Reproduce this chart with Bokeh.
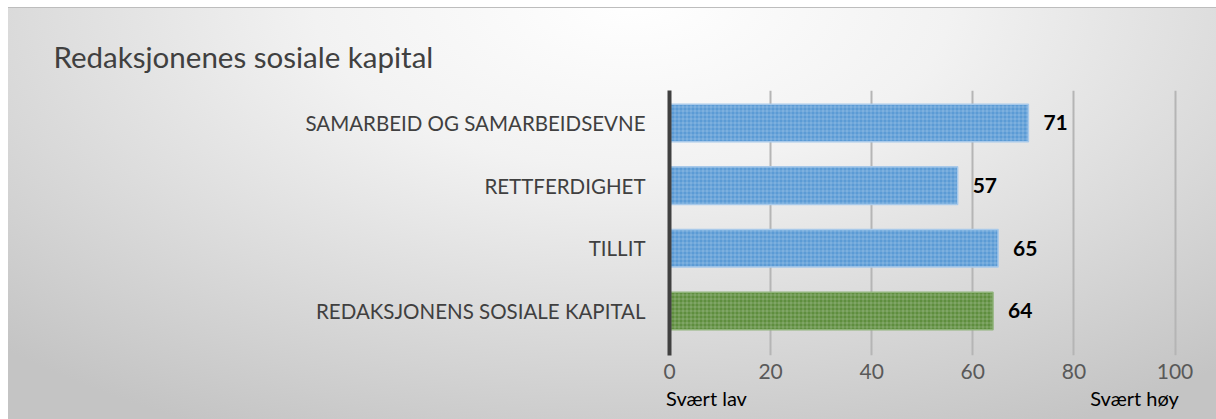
from bokeh.plotting import figure
from bokeh.models import Range1d, ColumnDataSource, FixedTicker, LinearAxis
from bokeh.embed import file_html
from bokeh.resources import INLINE
from bokeh.core.properties import value

# ---- data ----
title_text = "Redaksjonenes sosiale kapital"
categories = ["SAMARBEID OG SAMARBEIDSEVNE", "RETTFERDIGHET", "TILLIT",
              "REDAKSJONENS SOSIALE KAPITAL"]
scores = [71, 57, 65, 64]
bar_colors = ["#5b9bd5", "#5b9bd5", "#5b9bd5", "#5e8e3e"]
bar_lines = ["#a8c9ea", "#a8c9ea", "#a8c9ea", "#8fb37a"]
x_ticks = [0, 20, 40, 60, 80, 100]
scale_low = "Svært lav"
scale_high = "Svært høy"

# ---- layout / style ----
FONT = "Lato"
W, H = 1216, 419
LEFT, TOP, BOTTOM = 669, 90, 64
px_per_unit = 5.055
PAD_TOP, PAD_BOTTOM = 0.518, 0.71      # category-axis padding (in bands)
# where the centres of the two scale-end captions sit (canvas px)
LOW_CAPTION_CX, HIGH_CAPTION_CX = 706, 1134

n = len(categories)
ypos = [n - 1 - i for i in range(n)]   # first category on top

source = ColumnDataSource(dict(
    y=ypos, val=scores, color=bar_colors, line=bar_lines,
    label=[str(v) for v in scores],
))

p = figure(
    width=W, height=H, output_backend="svg", toolbar_location=None,
    y_range=Range1d(-PAD_BOTTOM, n - 1 + PAD_TOP),
    x_range=Range1d(0, (W - LEFT) / px_per_unit),
    min_border_left=LEFT, min_border_right=0, min_border_top=TOP,
    min_border_bottom=BOTTOM,
)
p.styles = {
    "background": (
        "linear-gradient(#ffffff,#ffffff) 0 0 / 100% 7px no-repeat, "
        "linear-gradient(#ffffff,#ffffff) 0 0 / 8px 100% no-repeat, "
        "linear-gradient(#bdbdbd,#bdbdbd) 8px 7px / 100% 1px no-repeat, "
        "radial-gradient(ellipse 75% 115% at 52% 0%, #ffffff 0%, #f2f2f2 35%, #c4c4c4 100%)"
    ),
}
p.border_fill_color = None
p.background_fill_color = None
p.outline_line_color = None

p.title.text = title_text
p.title.text_font = FONT
p.title.text_font_size = "29.5px"
p.title.text_font_style = "normal"
p.title.text_color = "#404040"
p.title.align = "left"
p.title.offset = 53 - LEFT
p.title.standoff = 34

p.hbar(y="y", right="val", left=0, height=0.6, source=source,
       fill_color="color", line_color="line", line_width=1.5,
       hatch_pattern="cross", hatch_color="white", hatch_alpha=0.22,
       hatch_scale=4, hatch_weight=1)

p.text(x="val", y="y", text="label", source=source, x_offset=15,
       text_baseline="middle", text_align="left",
       text_font=value(FONT), text_font_style="bold",
       text_font_size="21px", text_color="#000000")

# grid
p.ygrid.grid_line_color = None
p.xgrid.ticker = FixedTicker(ticks=x_ticks)
p.xgrid.grid_line_color = "#b5b5b5"
p.xgrid.grid_line_width = 2

# x axis
p.xaxis.ticker = FixedTicker(ticks=x_ticks)
p.xaxis.axis_line_color = None
p.xaxis.major_tick_line_color = None
p.xaxis.minor_tick_line_color = None
p.xaxis.major_tick_out = 0
p.xaxis.minor_tick_out = 0
p.xaxis.major_label_standoff = 8
p.xaxis.major_label_text_font = FONT
p.xaxis.major_label_text_font_size = "21px"
p.xaxis.major_label_text_color = "#595959"

# scale-end captions: a second axis whose two ticks are the scale ends
lo, hi = x_ticks[0], x_ticks[-1]
unit = (HIGH_CAPTION_CX - LOW_CAPTION_CX) / (hi - lo)
p.extra_x_ranges = {"ends": Range1d(lo - (LOW_CAPTION_CX - LEFT) / unit,
                                    hi + (W - HIGH_CAPTION_CX) / unit)}
ends_axis = LinearAxis(x_range_name="ends", ticker=FixedTicker(ticks=[lo, hi]),
                       major_label_overrides={lo: scale_low, hi: scale_high})
ends_axis.axis_line_color = None
ends_axis.major_tick_line_color = None
ends_axis.minor_tick_line_color = None
ends_axis.major_tick_out = 0
ends_axis.minor_tick_out = 0
ends_axis.major_label_standoff = 4
ends_axis.major_label_text_font = FONT
ends_axis.major_label_text_font_size = "20px"
ends_axis.major_label_text_color = "#000000"
p.add_layout(ends_axis, "below")

# y axis (categories)
p.yaxis.ticker = FixedTicker(ticks=ypos)
p.yaxis.major_label_overrides = {y: c for y, c in zip(ypos, categories)}
p.yaxis.axis_line_color = "#404040"
p.yaxis.axis_line_width = 4
p.yaxis.major_tick_line_color = None
p.yaxis.minor_tick_line_color = None
p.yaxis.major_tick_out = 0
p.yaxis.minor_tick_out = 0
p.yaxis.major_label_standoff = 24
p.yaxis.major_label_text_font = FONT
p.yaxis.major_label_text_font_size = "20.5px"
p.yaxis.major_label_text_color = "#404040"

open("out.html", "w").write(file_html(p, INLINE))
